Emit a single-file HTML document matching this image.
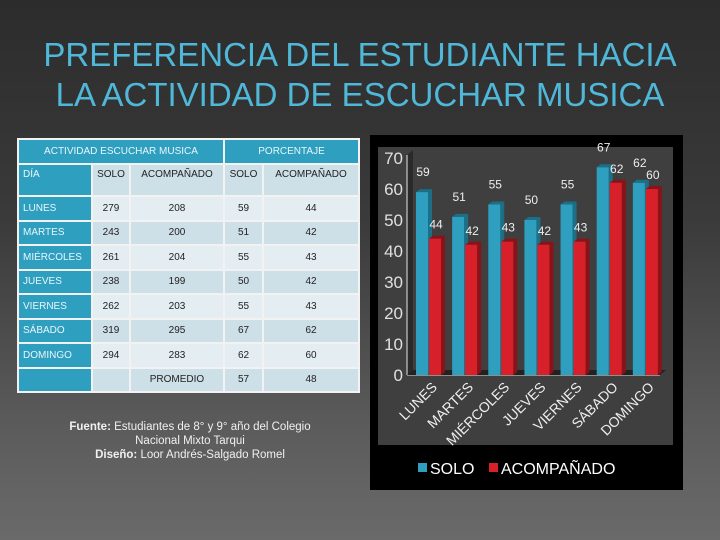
<!DOCTYPE html>
<html><head><meta charset="utf-8"><style>
body{margin:0;width:720px;height:540px;overflow:hidden;font-family:"Liberation Sans",sans-serif;}
#bg{position:absolute;left:0;top:0;width:720px;height:540px;background:linear-gradient(#2c2c2c 0%,#3a3a3a 40%,#5c5c5c 80%,#6a6a6a 100%);}
.title{position:absolute;left:0;width:720px;text-align:center;color:#4fb8d8;font-size:33px;line-height:40px;top:35px;}
table{position:absolute;left:17px;top:138px;border-collapse:collapse;font-size:10px;color:#222;}
td{border:2px solid #f2f2f2;padding:0 4px;height:22.5px;text-align:center;}
tr.h td{background:#2f9fc0;color:#e8f6fb;height:23px;}
tr.s td{background:#cddfe7;height:26px;vertical-align:top;padding-top:4px}
tr.a td{background:#cddfe7}tr.b td{background:#e4eef2}
tr td.d{background:#2f9fc0;color:#e8f6fb;text-align:left;}
.src{position:absolute;left:40px;top:420px;width:300px;text-align:center;color:#f0f0f0;font-size:11.5px;line-height:14px;}
</style></head><body>
<div id="bg"></div>
<div class="title">PREFERENCIA DEL ESTUDIANTE HACIA<br>LA ACTIVIDAD DE ESCUCHAR MUSICA</div>
<table>
<tr class="h"><td colspan="3" style="width:195px">ACTIVIDAD ESCUCHAR MUSICA</td><td colspan="2">PORCENTAJE</td></tr>
<tr class="s"><td class="d" style="width:64px">DÍA</td><td style="width:28px">SOLO</td><td style="width:84px">ACOMPAÑADO</td><td style="width:29px">SOLO</td><td style="width:86px">ACOMPAÑADO</td></tr>
<tr class="b"><td class="d">LUNES</td><td>279</td><td>208</td><td>59</td><td>44</td></tr>
<tr class="a"><td class="d">MARTES</td><td>243</td><td>200</td><td>51</td><td>42</td></tr>
<tr class="b"><td class="d">MIÉRCOLES</td><td>261</td><td>204</td><td>55</td><td>43</td></tr>
<tr class="a"><td class="d">JUEVES</td><td>238</td><td>199</td><td>50</td><td>42</td></tr>
<tr class="b"><td class="d">VIERNES</td><td>262</td><td>203</td><td>55</td><td>43</td></tr>
<tr class="a"><td class="d">SÁBADO</td><td>319</td><td>295</td><td>67</td><td>62</td></tr>
<tr class="b"><td class="d">DOMINGO</td><td>294</td><td>283</td><td>62</td><td>60</td></tr>
<tr class="a"><td class="d"></td><td></td><td>PROMEDIO</td><td>57</td><td>48</td></tr>
</table>
<div class="src"><b>Fuente:</b> Estudiantes de 8° y 9° año del Colegio<br>Nacional Mixto Tarqui<br><b>Diseño:</b> Loor Andrés-Salgado Romel</div>
<svg id="chart" width="720" height="540" style="position:absolute;left:0;top:0"></svg>
<script>
const categories=["LUNES","MARTES","MIÉRCOLES","JUEVES","VIERNES","SÁBADO","DOMINGO"];
const solo=[59,51,55,50,55,67,62];
const acompanado=[44,42,43,42,43,62,60];
const yTicks=[0,10,20,30,40,50,60,70];
const NS="http://www.w3.org/2000/svg";
const svg=document.getElementById('chart');
function el(t,a,p){const e=document.createElementNS(NS,t);for(const k in a)e.setAttribute(k,a[k]);(p||svg).appendChild(e);return e;}
const y0=375,y70=158,xl=407,xr=660;
const y=v=>y0-(v/70)*(y0-y70);
const cw=(xr-xl)/categories.length;
const panel=el('rect',{x:370,y:135,width:313,height:355,fill:'#000'});


const plot=el('rect',{x:378,y:147,width:295,height:298,fill:'#3f3f3f'});


el('polygon',{points:`${xl},${y0} ${xl+6},${y0-5} ${xl+6},${y70-8} ${xl},${y70-3}`,fill:'#2a2a2a'});
el('line',{x1:xl,y1:y70-3,x2:xl,y2:y0,stroke:'#aaa','stroke-width':1.5});
el('line',{x1:xl,y1:y0,x2:xr,y2:y0,stroke:'#aaa','stroke-width':1.5});
el('polygon',{points:`${xl},${y0} ${xl+6},${y0-5} ${xr+6},${y0-5} ${xr},${y0}`,fill:'#222'});
yTicks.forEach(v=>{const t=el('text',{x:403,y:y(v)+6,'text-anchor':'end',fill:'#e0e0e0','font-size':17});t.textContent=v;

});
categories.forEach((c,i)=>{
 const x0=xl+cw*i+9;
 [[solo[i],'#2f9fc0','#1d6f88',0,'bar-solo'],[acompanado[i],'#d8202a','#8a1218',13,'bar-acompanado']].forEach(([v,f,s,dx,n])=>{
  const bx=x0+dx,top=y(v);
  el('polygon',{points:`${bx+12},${top} ${bx+16},${top-3} ${bx+16},${y0-3} ${bx+12},${y0}`,fill:s});
  el('polygon',{points:`${bx},${top} ${bx+4},${top-3} ${bx+16},${top-3} ${bx+12},${top}`,fill:s});
  const r=el('rect',{x:bx,y:top,width:12,height:y0-top,fill:f});
  
  
  const t=el('text',{x:bx+7,y:top-(dx?10:16),'text-anchor':'middle',fill:'#eee','font-size':12});t.textContent=v;
  
  
 });
 const cx=x0+22;
 const t=el('text',{x:cx,y:388,'text-anchor':'end',fill:'#eee','font-size':14,transform:`rotate(-45 ${cx} 388)`});t.textContent=c;
 
 
});
const lg=el('g',{});


el('rect',{x:418,y:463,width:9,height:9,fill:'#2f9fc0'},lg);
el('text',{x:430,y:474,fill:'#fff','font-size':16},lg).textContent='SOLO';
el('rect',{x:489,y:463,width:9,height:9,fill:'#d8202a'},lg);
el('text',{x:501,y:474,fill:'#fff','font-size':16},lg).textContent='ACOMPAÑADO';
</script>
</body></html>
